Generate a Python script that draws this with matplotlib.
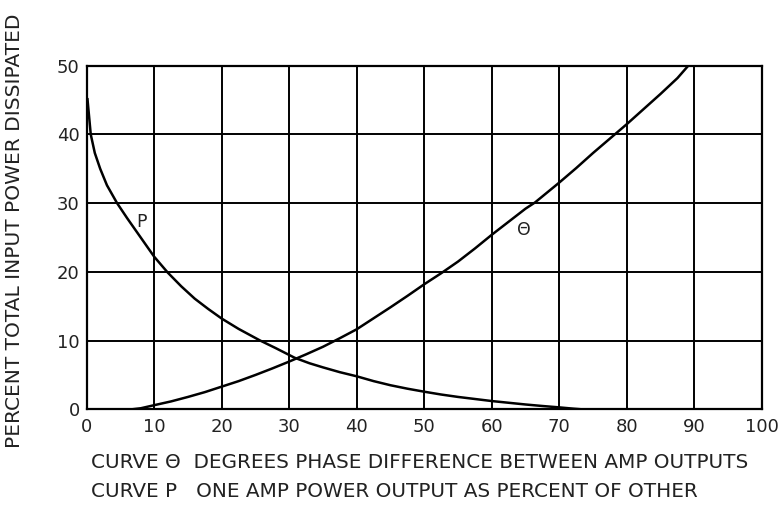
import matplotlib.pyplot as plt

plt.rcParams['font.family'] = ['DejaVu Sans']

# curve P: one amp power output as percent of the other
p_x = [0.1, 0.6, 1.2, 2, 3, 4.5, 6, 8, 10, 12, 14, 16, 18, 20, 22.5, 25.7, 28,
       30.8, 33, 35, 37.5, 40, 42.5, 45, 47.5, 50, 52.5, 55, 57.5, 60, 62.5,
       65, 67.5, 70, 72, 73.3]
p_y = [45.3, 40, 37.3, 35.0, 32.6, 30, 27.8, 25.0, 22.2, 19.9, 17.9, 16.1,
       14.6, 13.2, 11.7, 10, 8.9, 7.5, 6.7, 6.1, 5.4, 4.8, 4.1, 3.5, 3.0,
       2.56, 2.15, 1.8, 1.5, 1.2, 0.95, 0.7, 0.48, 0.28, 0.1, 0.0]

# curve theta: degrees phase difference between amp outputs
t_x = [6.7, 8, 10, 12.5, 15, 17.5, 20, 22.5, 25, 27.5, 30, 32.5, 35, 37.5, 40,
       42.5, 45, 47.5, 50, 52.5, 55, 57.5, 60, 62.5, 65, 66.4, 70, 72.5, 75,
       77.5, 80, 82.5, 85, 87.5, 89.1]
t_y = [0.0, 0.15, 0.6, 1.15, 1.8, 2.5, 3.3, 4.1, 5.0, 5.95, 6.95, 8.0, 9.1,
       10.35, 11.65, 13.25, 14.85, 16.5, 18.2, 19.8, 21.5, 23.4, 25.4, 27.3,
       29.2, 30.1, 33.0, 35.1, 37.3, 39.4, 41.5, 43.7, 45.9, 48.2, 50]

x_ticks = [0, 10, 20, 30, 40, 50, 60, 70, 80, 90, 100]
y_ticks = [0, 10, 20, 30, 40, 50]

ink = '#222222'

fig = plt.figure(figsize=(7.79, 5.07), dpi=100)
ax = fig.add_axes([0.1113, 0.1927, 0.8667, 0.6777])

ax.plot(p_x, p_y, color='black', lw=1.8, solid_capstyle='butt')
ax.plot(t_x, t_y, color='black', lw=1.8, solid_capstyle='butt')

ax.set_xlim(0, 100)
ax.set_ylim(0, 50)
ax.set_xticks(x_ticks)
ax.set_yticks(y_ticks)
ax.grid(True, color='black', lw=1.4)
ax.tick_params(length=0, labelsize=13, colors=ink)
ax.tick_params(axis='x', pad=6.5)
ax.tick_params(axis='y', pad=5)
for s in ax.spines.values():
    s.set_linewidth(1.6)

ax.text(8.1, 27.3, 'P', fontsize=12.5, ha='center', va='center', color=ink)
ax.text(64.7, 26.1, 'Θ', fontsize=12.5, ha='center', va='center', color=ink)

fig.text(0.018, 0.544, 'PERCENT TOTAL INPUT POWER DISSIPATED', rotation=90,
         ha='center', va='center', fontsize=14.5, color=ink)
fig.text(0.117, 0.087, 'CURVE Θ  DEGREES PHASE DIFFERENCE BETWEEN AMP OUTPUTS',
         ha='left', va='center', fontsize=14.4, color=ink)
fig.text(0.117, 0.030, 'CURVE P   ONE AMP POWER OUTPUT AS PERCENT OF OTHER',
         ha='left', va='center', fontsize=14.4, color=ink)

fig.savefig('out.png', dpi=100, facecolor='white')
